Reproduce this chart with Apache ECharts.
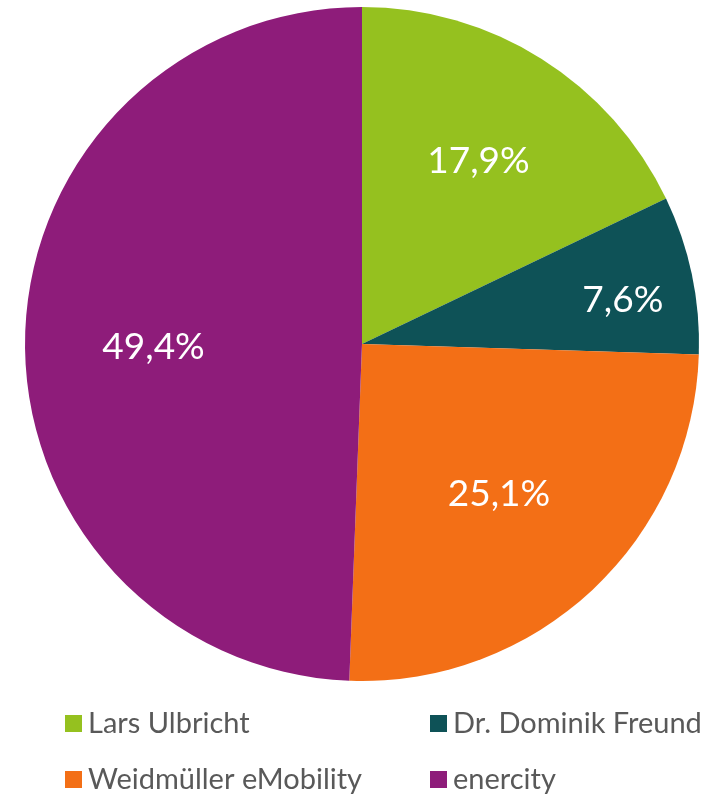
<!DOCTYPE html>
<html>
<head>
<meta charset="utf-8">
<script src="https://cdn.jsdelivr.net/npm/echarts@6/dist/echarts.min.js"></script>
<style>
  html, body { margin: 0; padding: 0; background: #fff; }
  #main { width: 702px; height: 795px; }
</style>
</head>
<body>
<div id="main"></div>
<script>
var names = ['Lars Ulbricht', 'Dr. Dominik Freund', 'Weidmüller eMobility', 'enercity'];
var values = [17.9, 7.6, 25.1, 49.4];
var colors = ['#95c11f', '#0e5257', '#f36f16', '#8e1c7a'];
// label nudges so they sit where the original has them
var labelOffsets = [[25, -38], [93, -9], [20, 25], [-37, 6]];
// legend slots: left, top
var legendPos = [[60, 704], [425, 704], [60, 760], [425, 760]];

var myChart = echarts.init(document.getElementById('main'));

var pieData = names.map(function (n, i) {
    return {
        name: n,
        value: values[i],
        itemStyle: { color: colors[i] },
        label: { offset: labelOffsets[i] }
    };
});

var legends = names.map(function (n, i) {
    return {
        left: legendPos[i][0],
        top: legendPos[i][1],
        itemWidth: 17,
        itemHeight: 17,
        itemGap: 0,
        icon: 'rect',
        textStyle: { color: '#595959', fontSize: 29, fontFamily: 'Lato', padding: [0, 0, 0, 1] },
        data: [n]
    };
});

var option = {
    backgroundColor: '#fff',
    animation: false,
    legend: legends,
    series: [
        {
            type: 'pie',
            center: [362, 344],
            radius: 337,
            startAngle: 90,
            clockwise: true,
            avoidLabelOverlap: false,
            itemStyle: { borderWidth: 0 },
            label: {
                show: true,
                position: 'inside',
                color: '#fff',
                fontSize: 37,
                fontFamily: 'Lato',
                formatter: function (p) {
                    return p.value.toFixed(1).replace('.', ',') + '%';
                }
            },
            labelLine: { show: false },
            emphasis: { disabled: true },
            data: pieData
        }
    ]
};

myChart.setOption(option);
</script>
</body>
</html>
